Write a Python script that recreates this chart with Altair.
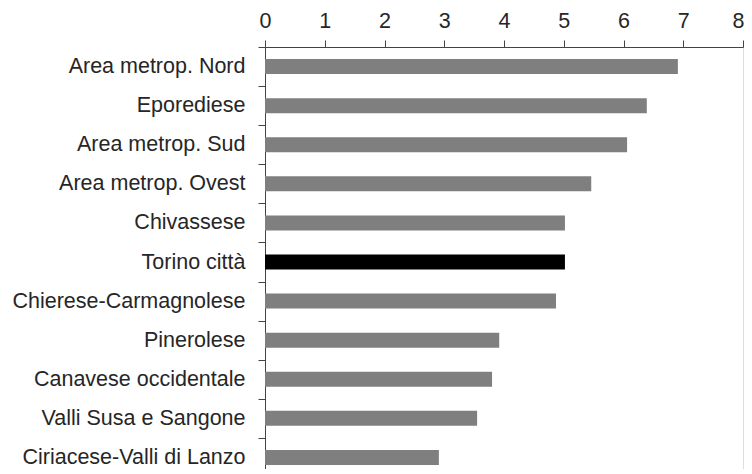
import altair as alt
import pandas as pd

categories = [
    "Area metrop. Nord",
    "Eporediese",
    "Area metrop. Sud",
    "Area metrop. Ovest",
    "Chivassese",
    "Torino città",
    "Chierese-Carmagnolese",
    "Pinerolese",
    "Canavese occidentale",
    "Valli Susa e Sangone",
    "Ciriacese-Valli di Lanzo",
]
values = [6.91, 6.39, 6.06, 5.46, 5.02, 5.02, 4.87, 3.92, 3.80, 3.55, 2.91]
highlight = ["Torino città"]
x_ticks = [0, 1, 2, 3, 4, 5, 6, 7, 8]

df = pd.DataFrame({"area": categories, "value": values})
df["kind"] = ["city" if c in highlight else "other" for c in categories]

FONT = "Liberation Sans"

chart = (
    alt.Chart(df)
    .mark_bar(size=15)
    .encode(
        y=alt.Y(
            "area:N",
            sort=categories,
            title=None,
            scale=alt.Scale(paddingInner=0, paddingOuter=0),
            axis=alt.Axis(
                orient="left",
                tickBand="extent",
                tickSize=7,
                labelPadding=13,
                labelFontSize=21.5,
                labelFont=FONT,
                labelColor="#262626",
                domainColor="#444444",
                tickColor="#444444",
                labelLimit=400,
            ),
        ),
        x=alt.X(
            "value:Q",
            title=None,
            scale=alt.Scale(domain=[0, 8], nice=False),
            axis=alt.Axis(
                orient="top",
                values=x_ticks,
                format="d",
                grid=False,
                tickSize=7,
                labelPadding=8,
                labelFontSize=21.5,
                labelFont=FONT,
                labelColor="#262626",
                domainColor="#444444",
                tickColor="#444444",
                labelAlign={"expr": "datum.value == 8 ? 'right' : 'center'"},
                labelOffset={"expr": "datum.value == 8 ? 1 : 0"},
            ),
        ),
        color=alt.Color(
            "kind:N",
            scale=alt.Scale(domain=["other", "city"], range=["#7f7f7f", "#000000"]),
            legend=None,
        ),
    )
    .properties(
        width=478,
        height=430,
        autosize="none",
        padding={"left": 257, "top": 39, "right": 1, "bottom": -8},
    )
    .configure_view(stroke=None)
    .configure(background="white")
)

chart.save("out.html", embed_options={"renderer": "svg", "actions": False})
